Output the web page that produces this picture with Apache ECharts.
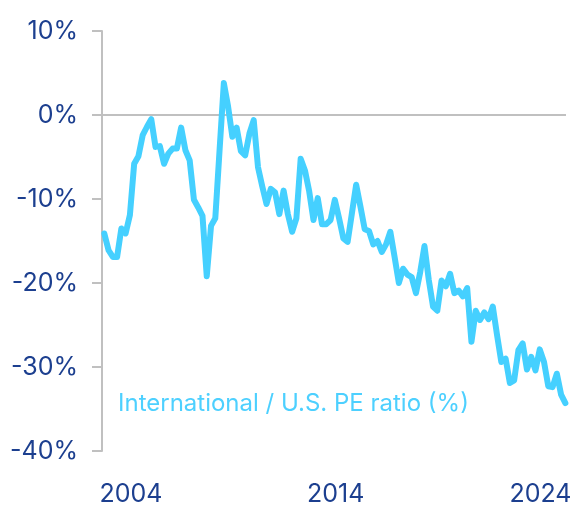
<!DOCTYPE html>
<html>
<head>
<meta charset="utf-8">
<script src="https://cdn.jsdelivr.net/npm/echarts@6/dist/echarts.min.js"></script>
<style>
  html, body { margin: 0; padding: 0; background: #fff; }
  #chart { width: 578px; height: 507px; }
</style>
</head>
<body>
<div id="chart"></div>
<script>
// International / U.S. PE ratio, % (evenly spaced samples)
var firstYear = 2002.696;
var stepYears = 0.2085;
var peRatio = [
  -14.1, -16.1, -16.9, -16.9, -13.5, -14.1, -11.9, -5.8, -4.9, -2.4,
  -1.4, -0.5, -3.8, -3.7, -5.8, -4.6, -4.0, -4.0, -1.5, -4.2,
  -5.4, -10.1, -11.0, -12.0, -19.2, -13.2, -12.3, -4.2, 3.8, 1.0,
  -2.6, -1.5, -4.3, -4.8, -2.2, -0.6, -6.2, -8.5, -10.6, -8.8,
  -9.2, -11.8, -9.0, -11.8, -13.9, -12.3, -5.2, -6.6, -9.1, -12.5,
  -9.9, -13.0, -13.0, -12.5, -10.1, -12.3, -14.7, -15.1, -11.7, -8.3,
  -10.9, -13.6, -13.8, -15.4, -15.0, -16.3, -15.4, -13.9, -16.9, -20.0,
  -18.3, -19.0, -19.3, -21.2, -18.7, -15.6, -19.6, -22.8, -23.3, -19.7,
  -20.4, -18.9, -21.2, -20.9, -21.6, -20.6, -27.0, -23.3, -24.4, -23.5,
  -24.3, -22.8, -26.2, -29.4, -29.0, -31.9, -31.6, -28.0, -27.2, -30.3,
  -28.8, -30.4, -27.9, -29.4, -32.3, -32.4, -30.8, -33.3, -34.3
];
var yearLabels = [2004, 2014, 2024];
var yMin = -40, yMax = 10, yStep = 10;
var seriesName = 'International / U.S. PE ratio (%)';

var points = peRatio.map(function (v, i) {
  return [firstYear + i * stepYears, v];
});

var chart = echarts.init(document.getElementById('chart'));
chart.setOption({
  animation: false,
  grid: { left: 102, right: 12, top: 31, bottom: 55 },
  xAxis: {
    type: 'value',
    min: 2002.584,
    max: 2025.245,
    axisLine: { show: false },
    axisTick: { show: false },
    splitLine: { show: false },
    axisLabel: {
      customValues: yearLabels,
      formatter: function (v) { return String(Math.round(v)); },
      color: '#1c3f8f',
      fontFamily: 'Inter',
      fontSize: 25,
      margin: 31
    }
  },
  yAxis: {
    type: 'value',
    min: yMin,
    max: yMax,
    interval: yStep,
    axisLine: { show: true, lineStyle: { color: '#c0c0c0', width: 2 } },
    axisTick: { show: true, length: 10, lineStyle: { color: '#c0c0c0', width: 2 } },
    splitLine: { show: false },
    axisLabel: {
      formatter: '{value}%',
      color: '#1c3f8f',
      fontFamily: 'Inter',
      fontSize: 25,
      margin: 24
    }
  },
  series: [{
    name: seriesName,
    type: 'line',
    data: points,
    symbol: 'none',
    lineStyle: { color: '#45d0ff', width: 6, join: 'round', cap: 'round' },
    markLine: {
      silent: true,
      symbol: 'none',
      label: { show: false },
      lineStyle: { color: '#c0c0c0', width: 2, type: 'solid' },
      data: [{ yAxis: 0 }],
      z: 1
    },
    z: 3
  }],
  graphic: [{
    type: 'text',
    left: 118,
    top: 392,
    style: {
      text: seriesName,
      fill: '#4dd0ff',
      font: '24px Inter'
    }
  }]
});
</script>
</body>
</html>
